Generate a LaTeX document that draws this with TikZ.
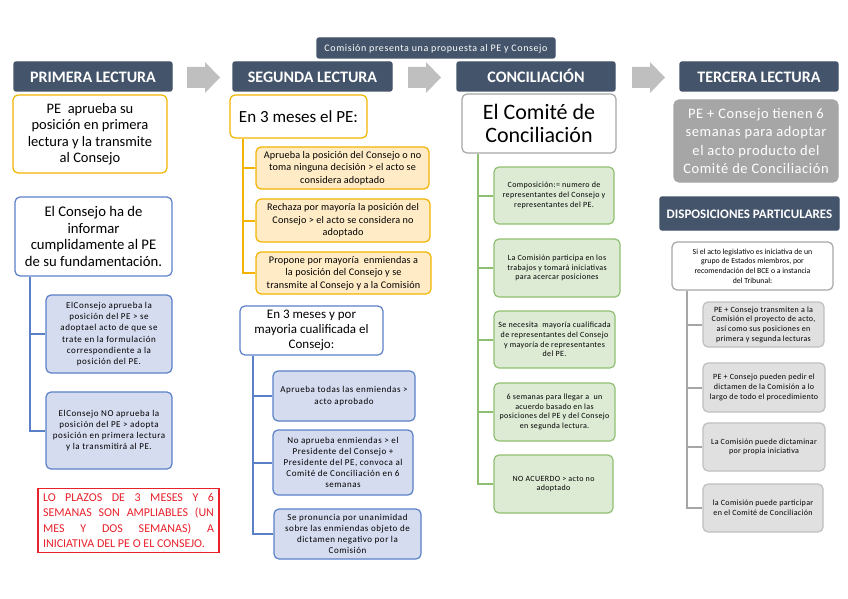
\documentclass[tikz,border=0pt]{standalone}
\usepackage{fontspec}
\setmainfont{Carlito}
\definecolor{slate}{HTML}{44546A}
\definecolor{arrowgrey}{HTML}{BFBFBF}
\definecolor{orline}{HTML}{F2B400}
\definecolor{orfill}{HTML}{FFEBC6}
\definecolor{blline}{HTML}{5B80C8}
\definecolor{blfill}{HTML}{D6DCF0}
\definecolor{grline}{HTML}{8FC071}
\definecolor{grfill}{HTML}{DDEBD5}
\definecolor{gyline}{HTML}{A6A6A6}
\definecolor{gyfill}{HTML}{E0E0E0}
\definecolor{redline}{HTML}{E8212B}
\begin{document}
\begin{tikzpicture}[x=1pt, y=-1pt,
    box/.style={draw, rounded corners=5pt, align=center, inner sep=1pt, line width=1.2pt},
    hdr/.style={box, fill=slate, draw=slate, text=white, rounded corners=2pt,
        minimum height=29pt, text height=12pt, text depth=0pt,
        font=\fontsize{16}{18}\selectfont\bfseries},
    orbox/.style={box, draw=orline, fill=orfill,
        font=\fontsize{10.2}{12.4}\selectfont\addfontfeature{LetterSpace=1.5}},
    blbox/.style={box, draw=blline, fill=blfill,
        font=\fontsize{9}{11.2}\selectfont\addfontfeature{LetterSpace=6}},
    grbox/.style={box, draw=grline, fill=grfill,
        font=\fontsize{8}{9.7}\selectfont\addfontfeature{LetterSpace=4.5}},
    gybox/.style={box, draw=arrowgrey, fill=gyfill,
        font=\fontsize{8}{9.7}\selectfont\addfontfeature{LetterSpace=4}},
    otrunk/.style={draw=orline, line width=2pt},
    btrunk/.style={draw=blline, line width=2pt},
    gtrunk/.style={draw=grline, line width=2pt},
    ytrunk/.style={draw=gyline, line width=2pt}]
\useasboundingbox (0,0) rectangle (848,599);
\fill[white] (0,0) rectangle (848,599);

% banner and headers
\node[hdr, minimum width=238pt, minimum height=20pt, text height=8pt, text depth=0pt,
    font=\fontsize{10}{12}\selectfont\addfontfeature{LetterSpace=6}] (banner) at (436,48)
    {Comisión presenta una propuesta al PE y Consejo};
\node[hdr, minimum width=158pt] (hdr1) at (93,76.5) {PRIMERA LECTURA};
\node[hdr, minimum width=159pt] (hdr2) at (312.5,76.5) {SEGUNDA LECTURA};
\node[hdr, minimum width=158pt] (hdr3) at (536,76.5) {CONCILIACIÓN};
\node[hdr, minimum width=158pt] (hdr4) at (759,76.5) {TERCERA LECTURA};
\foreach \ax in {187,408,632}
    \fill[arrowgrey] (\ax,67) -- (\ax+18,67) -- (\ax+18,62) -- (\ax+33,77.5)
        -- (\ax+18,93) -- (\ax+18,88) -- (\ax,88) -- cycle;

% primera lectura
\node[box, draw=orline, fill=white, minimum width=154pt, minimum height=78pt,
    font=\fontsize{14.5}{16.5}\selectfont] (pe1) at (90,134)
    {PE\ \ aprueba su\\posición en primera\\lectura y la transmite\\al Consejo};
\node[box, draw=blline, fill=white, minimum width=157pt, minimum height=79pt,
    font=\fontsize{14.7}{16.8}\selectfont] (cons1) at (93.5,236.5)
    {El Consejo ha de\\informar\\cumplidamente al PE\\de su fundamentación.};
\node[blbox, minimum width=126pt, minimum height=78pt] (c1a) at (109,334)
    {ElConsejo aprueba la\\posición del PE > se\\adoptael acto de que se\\trate en la formulación\\correspondiente a la\\posición del PE.};
\node[blbox, minimum width=126pt, minimum height=77pt] (c1b) at (109,430.5)
    {ElConsejo NO aprueba la\\posición del PE > adopta\\posición en primera lectura\\y la transmitirá al PE.};
\foreach \n in {c1a,c1b}
    \draw[btrunk] (cons1.south west) ++(16,0) |- (\n.west);
\node[draw=redline, line width=1.2pt, text=redline, text width=171pt, align=justify,
    inner sep=5pt, font=\fontsize{12}{15.5}\selectfont] (plazos) at (128.5,520.5)
    {LO PLAZOS DE 3 MESES Y 6\linebreak SEMANAS SON AMPLIABLES (UN\linebreak MES Y DOS SEMANAS) A\linebreak INICIATIVA DEL PE O EL CONSEJO.};

% segunda lectura
\node[box, draw=orline, fill=white, minimum width=137pt, minimum height=43pt,
    font=\fontsize{17}{19}\selectfont] (pe2) at (298.5,116.5) {En 3 meses el PE:};
\node[orbox, minimum width=173pt, minimum height=42pt] (o1) at (342.5,168)
    {Aprueba la posición del Consejo o no\\toma ninguna decisión > el acto se\\considera adoptado};
\node[orbox, minimum width=174pt, minimum height=43pt] (o2) at (343,220.5)
    {Rechaza por mayoría la posición del\\Consejo > el acto se considera no\\adoptado};
\node[orbox, minimum width=175pt, minimum height=42pt] (o3) at (343.5,273)
    {Propone por mayoría\ \ enmiendas a\\la posición del Consejo y se\\transmite al Consejo y a la Comisión};
\foreach \n in {o1,o2,o3}
    \draw[otrunk] (pe2.south west) ++(14,0) |- (\n.west);
\node[box, draw=blline, fill=white, minimum width=143pt, minimum height=49pt,
    font=\fontsize{13}{15}\selectfont] (cons2) at (311.5,330.5)
    {En 3 meses y por\\mayoria cualificada el\\Consejo:};
\node[blbox, minimum width=142pt, minimum height=50pt] (b1) at (344,396)
    {Aprueba todas las enmiendas >\\acto aprobado};
\node[blbox, minimum width=140pt, minimum height=65pt] (b2) at (343,462.5)
    {No aprueba enmiendas > el\\Presidente del Consejo +\\Presidente del PE, convoca al\\Comité de Conciliación en 6\\semanas};
\node[blbox, minimum width=147pt, minimum height=50pt] (b3) at (347.5,534)
    {Se pronuncia por unanimidad\\sobre las enmiendas objeto de\\dictamen negativo por la\\Comisión};
\foreach \n in {b1,b2,b3}
    \draw[btrunk] (cons2.south west) ++(14,0) |- (\n.west);

% conciliacion
\node[box, draw=gyline, fill=white, minimum width=154pt, minimum height=59pt,
    font=\fontsize{22}{23.5}\selectfont] (comite) at (539,123.5) {El Comité de\\Conciliación};
\node[grbox, minimum width=120pt, minimum height=57pt] (g1) at (554,195.5)
    {Composición:= numero de\\representantes del Consejo y\\representantes del PE.};
\node[grbox, minimum width=126pt, minimum height=58pt] (g2) at (557,268)
    {La Comisión participa en los\\trabajos y tomará iniciativas\\para acercar posiciones};
\node[grbox, minimum width=121pt, minimum height=57pt] (g3) at (554.5,339.5)
    {Se necesita\ \ mayoría cualificada\\de representantes del Consejo\\y mayoría de representantes\\del PE.};
\node[grbox, minimum width=121pt, minimum height=58pt] (g4) at (554.5,412)
    {6 semanas para llegar a\ \ un\\acuerdo basado en las\\posiciones del PE y del Consejo\\en segunda lectura.};
\node[grbox, minimum width=119pt, minimum height=58pt] (g5) at (553.5,484)
    {NO ACUERDO > acto no\\adoptado};
\foreach \n in {g1,g2,g3,g4,g5}
    \draw[gtrunk] (comite.south west) ++(17,0) |- (\n.west);

% tercera lectura
\node[box, draw=gyline, fill=gyline, text=white, minimum width=164pt, minimum height=82pt,
    font=\fontsize{14.5}{18.5}\selectfont\addfontfeature{LetterSpace=4}] (ter) at (756,141)
    {PE + Consejo tienen 6\\semanas para adoptar\\el acto producto del\\Comité de Conciliación};
\node[hdr, minimum width=179pt, minimum height=33pt, text height=9pt, text depth=0pt,
    font=\fontsize{13}{14}\selectfont\bfseries] (disp) at (749.5,213.5)
    {DISPOSICIONES PARTICULARES};
\node[box, draw=gyline, fill=white, minimum width=161pt, minimum height=48pt,
    font=\fontsize{7.8}{9.7}\selectfont] (si) at (752.5,266)
    {Si el acto legislativo es iniciativa de un\\grupo de Estados miembros, por\\recomendación del BCE o a instancia\\del Tribunal:};
\node[gybox, minimum width=121pt, minimum height=45pt] (d1) at (763.5,324.5)
    {PE + Consejo transmiten a la\\Comisión el proyecto de acto,\\así como sus posiciones en\\primera y segunda lecturas};
\node[gybox, minimum width=122pt, minimum height=49pt] (d2) at (764,387.5)
    {PE + Consejo pueden pedir el\\dictamen de la Comisión a lo\\largo de todo el procedimiento};
\node[gybox, minimum width=122pt, minimum height=48pt] (d3) at (764,447)
    {La Comisión puede dictaminar\\por propia iniciativa};
\node[gybox, minimum width=120pt, minimum height=48pt] (d4) at (763,508)
    {la Comisión puede participar\\en el Comité de Conciliación};
\foreach \n in {d1,d2,d3,d4}
    \draw[ytrunk] (si.south west) ++(16,0) |- (\n.west);
\end{tikzpicture}
\end{document}
